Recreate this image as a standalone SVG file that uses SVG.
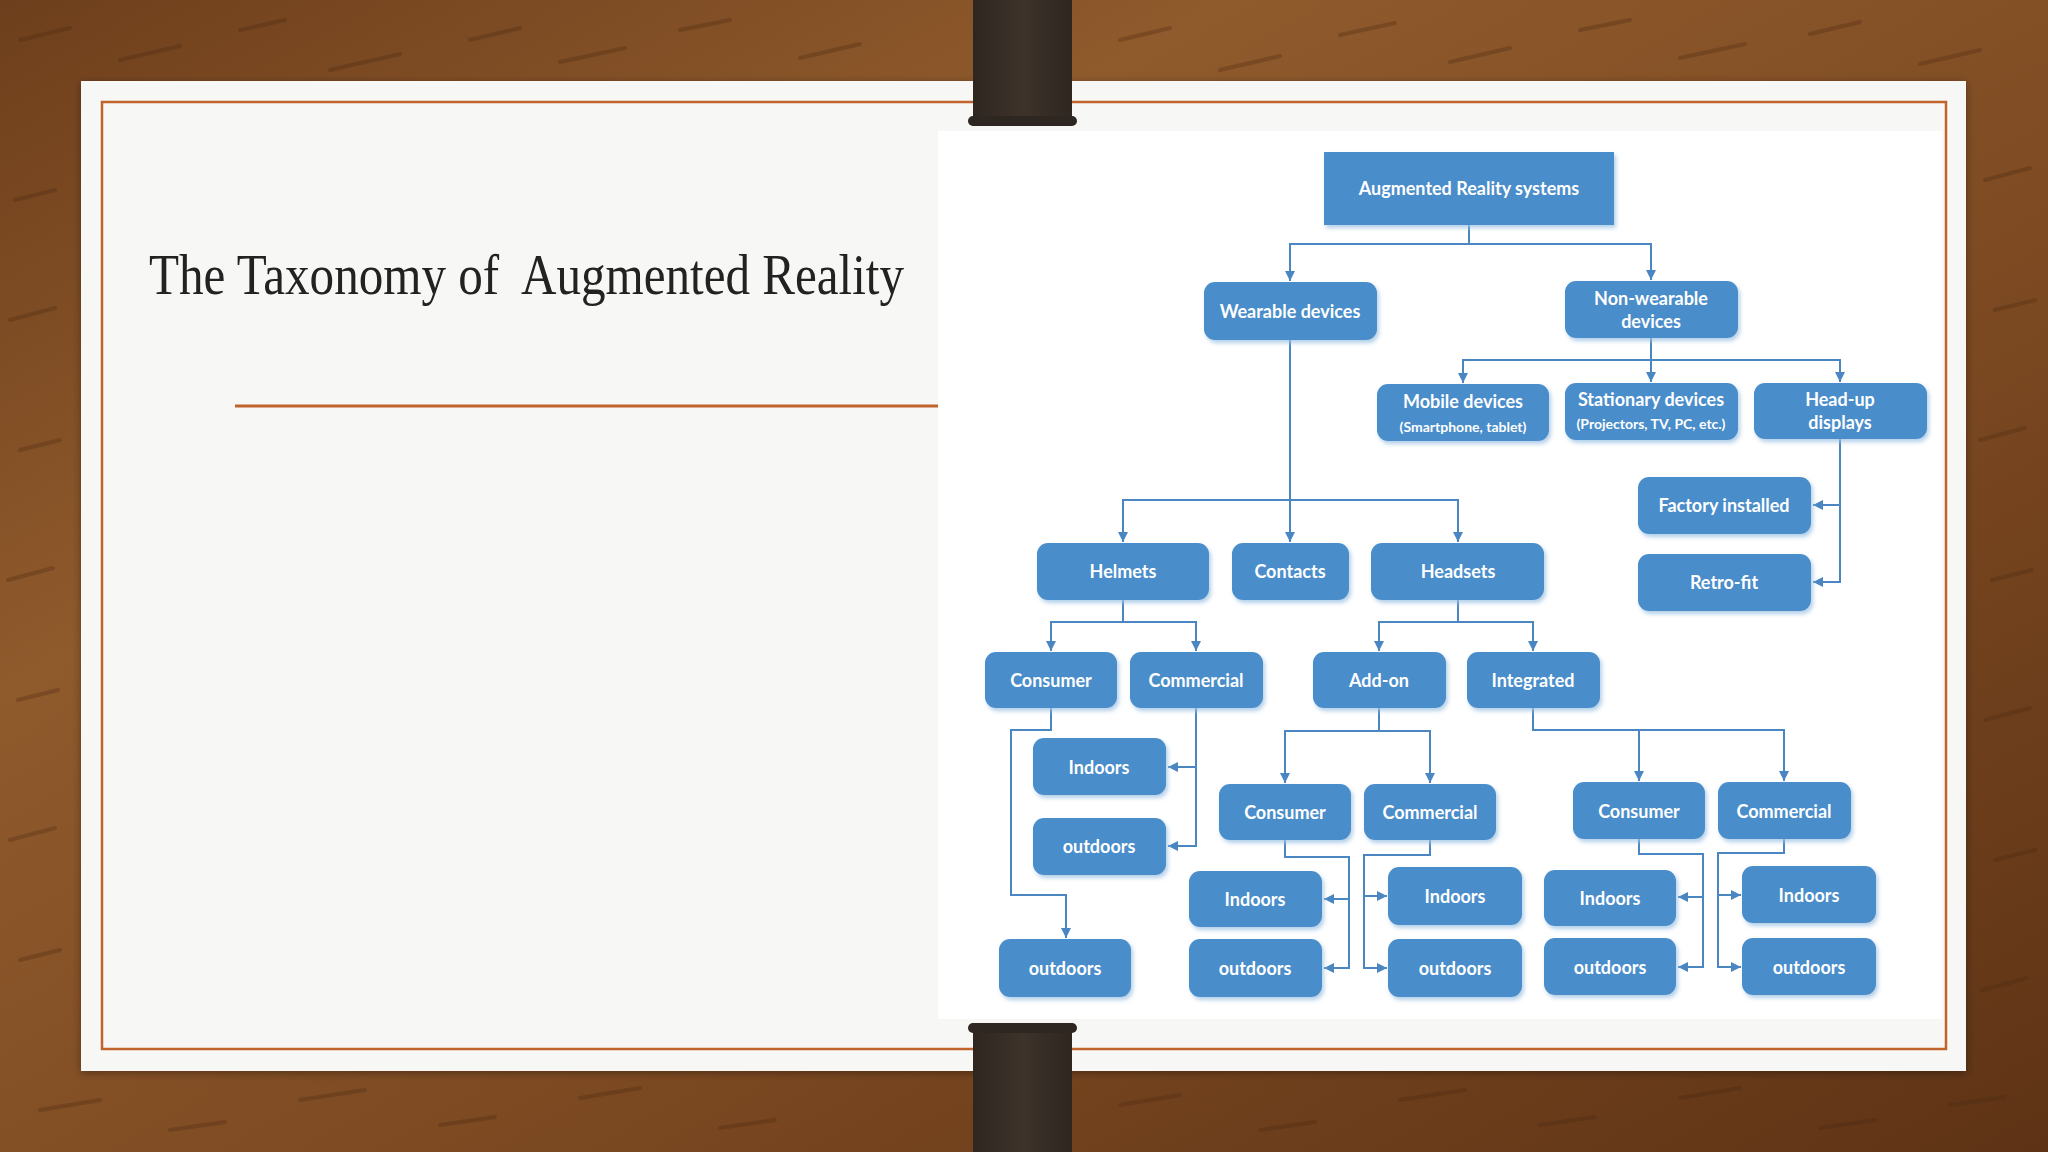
<svg xmlns="http://www.w3.org/2000/svg" width="2048" height="1152" viewBox="0 0 2048 1152">
<defs>
<linearGradient id="wood" x1="0" y1="0" x2="1" y2="1">
<stop offset="0" stop-color="#6e3f1c"/>
<stop offset="0.3" stop-color="#8f5a2c"/>
<stop offset="0.6" stop-color="#7d4a22"/>
<stop offset="1" stop-color="#5e3315"/>
</linearGradient>
<linearGradient id="clip" x1="0" y1="0" x2="1" y2="0">
<stop offset="0" stop-color="#2e2620"/>
<stop offset="0.5" stop-color="#3d332b"/>
<stop offset="1" stop-color="#2e2620"/>
</linearGradient>
<filter id="sh" x="-10%" y="-10%" width="130%" height="140%">
<feDropShadow dx="2" dy="3" stdDeviation="2" flood-color="#9fc3e3" flood-opacity="0.8"/>
</filter>
<filter id="psh" x="-5%" y="-5%" width="110%" height="110%">
<feDropShadow dx="0" dy="2" stdDeviation="4" flood-color="#000" flood-opacity="0.35"/>
</filter>
<marker id="ah" viewBox="0 0 10 10" refX="10" refY="5" markerWidth="10" markerHeight="10" markerUnits="userSpaceOnUse" orient="auto">
<path d="M0,0 L10,5 L0,10 z" fill="#4a86c1"/>
</marker>
</defs>
<style>
.n{fill:#4a8dca;filter:url(#sh)}
.t{fill:#ffffff;font-family:Lato,"Open Sans",sans-serif;font-weight:bold;font-size:18px;text-anchor:middle;dominant-baseline:central}
.s{font-size:14px}
.c{fill:none;stroke:#4a86c1;stroke-width:2}
.a{marker-end:url(#ah)}
.grain{fill:none;stroke:#4a2810;stroke-opacity:0.3;stroke-width:4;stroke-linecap:round}
</style>
<rect width="2048" height="1152" fill="url(#wood)"/>
<g class="grain">
<path d="M20,40 l50,-12"/><path d="M120,60 l60,-14"/><path d="M240,30 l45,-10"/><path d="M330,70 l70,-16"/><path d="M470,40 l50,-12"/><path d="M560,62 l65,-14"/><path d="M680,30 l50,-10"/><path d="M800,58 l60,-14"/>
<path d="M1120,40 l50,-12"/><path d="M1220,70 l60,-14"/><path d="M1340,35 l55,-12"/><path d="M1450,62 l60,-14"/><path d="M1580,30 l50,-10"/><path d="M1680,58 l65,-14"/><path d="M1810,34 l50,-12"/><path d="M1920,64 l60,-14"/>
<path d="M15,200 l40,-10"/><path d="M10,320 l45,-12"/><path d="M20,450 l40,-10"/><path d="M8,580 l45,-12"/><path d="M18,700 l40,-10"/><path d="M10,840 l45,-12"/><path d="M20,960 l40,-10"/>
<path d="M1985,180 l45,-12"/><path d="M1995,310 l40,-10"/><path d="M1980,440 l45,-12"/><path d="M1992,580 l40,-10"/><path d="M1985,720 l45,-12"/><path d="M1995,860 l40,-10"/><path d="M1982,990 l45,-12"/>
<path d="M40,1110 l60,-10"/><path d="M170,1130 l55,-8"/><path d="M300,1100 l65,-10"/><path d="M440,1125 l55,-8"/><path d="M580,1098 l60,-10"/><path d="M720,1128 l55,-8"/>
<path d="M1120,1105 l60,-10"/><path d="M1260,1130 l55,-8"/><path d="M1400,1100 l65,-10"/><path d="M1540,1125 l55,-8"/><path d="M1680,1098 l60,-10"/><path d="M1820,1128 l55,-8"/><path d="M1950,1105 l55,-8"/>
</g>
<rect x="81" y="81" width="1885" height="990" fill="#f7f7f5" filter="url(#psh)"/>
<rect x="938" y="131" width="1004" height="888" fill="#ffffff"/>
<rect x="102" y="102" width="1844" height="947" fill="none" stroke="#c0642c" stroke-width="2.5"/>
<line x1="235" y1="406" x2="938" y2="406" stroke="#c0642c" stroke-width="3"/>
<text x="149" y="294" font-family="'Liberation Serif',serif" font-size="56" fill="#222" textLength="755" lengthAdjust="spacingAndGlyphs" xml:space="preserve">The Taxonomy of  Augmented Reality</text>
<g id="clip-top">
<rect x="973" y="0" width="99" height="122" fill="url(#clip)"/>
<rect x="968" y="116" width="109" height="10" rx="5" fill="#2e2620"/>
</g>
<g id="clip-bottom">
<rect x="973" y="1028" width="99" height="124" fill="url(#clip)"/>
<rect x="968" y="1023" width="109" height="10" rx="5" fill="#2e2620"/>
</g>
<g id="connectors">
<path class="c a" d="M1469,225 V244 H1290 V281"/>
<path class="c a" d="M1469,244 H1651 V280"/>
<path class="c a" d="M1651,338 V360 H1463 V383"/>
<path class="c a" d="M1651,338 V382"/>
<path class="c a" d="M1651,360 H1840 V382"/>
<path class="c a" d="M1840,439 V582 H1813"/>
<path class="c a" d="M1840,505 H1813"/>
<path class="c a" d="M1290,340 V500 H1123 V542"/>
<path class="c a" d="M1290,340 V542"/>
<path class="c a" d="M1290,500 H1458 V542"/>
<path class="c a" d="M1123,600 V622 H1051 V651"/>
<path class="c a" d="M1123,622 H1196 V651"/>
<path class="c a" d="M1458,600 V622 H1379 V651"/>
<path class="c a" d="M1458,622 H1533 V651"/>
<path class="c a" d="M1051,708 V730 H1011 V895 H1066 V938"/>
<path class="c a" d="M1196,708 V846 H1168"/>
<path class="c a" d="M1196,767 H1168"/>
<path class="c a" d="M1379,708 V731 H1285 V783"/>
<path class="c a" d="M1379,731 H1430 V783"/>
<path class="c a" d="M1285,840 V857 H1349 V968 H1324"/>
<path class="c a" d="M1349,899 H1324"/>
<path class="c a" d="M1430,840 V855 H1364 V968 H1387"/>
<path class="c a" d="M1364,896 H1387"/>
<path class="c a" d="M1533,708 V730 H1784 V781"/>
<path class="c a" d="M1639,730 V781"/>
<path class="c a" d="M1639,839 V854 H1703 V967 H1678"/>
<path class="c a" d="M1703,897 H1678"/>
<path class="c a" d="M1784,839 V853 H1718 V967 H1741"/>
<path class="c a" d="M1718,895 H1741"/>
</g>
<g id="root"><rect class="n" x="1324" y="152" width="290" height="73"/><text class="t" x="1469" y="188">Augmented Reality systems</text></g>
<g id="wearable"><rect class="n" x="1204" y="282" width="173" height="58" rx="11"/><text class="t" x="1290" y="311">Wearable devices</text></g>
<g id="nonwearable"><rect class="n" x="1565" y="281" width="173" height="57" rx="11"/><text class="t" x="1651" y="298">Non-wearable</text><text class="t" x="1651" y="321">devices</text></g>
<g id="mobile"><rect class="n" x="1377" y="384" width="172" height="57" rx="11"/><text class="t" x="1463" y="401">Mobile devices</text><text class="t s" x="1463" y="426">(Smartphone, tablet)</text></g>
<g id="stationary"><rect class="n" x="1565" y="383" width="173" height="57" rx="11"/><text class="t" x="1651" y="399">Stationary devices</text><text class="t s" x="1651" y="423">(Projectors, TV, PC, etc.)</text></g>
<g id="headup"><rect class="n" x="1754" y="383" width="173" height="56" rx="11"/><text class="t" x="1840" y="399">Head-up</text><text class="t" x="1840" y="422">displays</text></g>
<g id="factory"><rect class="n" x="1638" y="477" width="173" height="57" rx="11"/><text class="t" x="1724" y="505">Factory installed</text></g>
<g id="retrofit"><rect class="n" x="1638" y="554" width="173" height="57" rx="11"/><text class="t" x="1724" y="582">Retro-fit</text></g>
<g id="helmets"><rect class="n" x="1037" y="543" width="172" height="57" rx="11"/><text class="t" x="1123" y="571">Helmets</text></g>
<g id="contacts"><rect class="n" x="1232" y="543" width="117" height="57" rx="11"/><text class="t" x="1290" y="571">Contacts</text></g>
<g id="headsets"><rect class="n" x="1371" y="543" width="173" height="57" rx="11"/><text class="t" x="1458" y="571">Headsets</text></g>
<g id="h-consumer"><rect class="n" x="985" y="652" width="132" height="56" rx="11"/><text class="t" x="1051" y="680">Consumer</text></g>
<g id="h-commercial"><rect class="n" x="1130" y="652" width="133" height="56" rx="11"/><text class="t" x="1196" y="680">Commercial</text></g>
<g id="addon"><rect class="n" x="1313" y="652" width="133" height="56" rx="11"/><text class="t" x="1379" y="680">Add-on</text></g>
<g id="integrated"><rect class="n" x="1467" y="652" width="133" height="56" rx="11"/><text class="t" x="1533" y="680">Integrated</text></g>
<g id="hc-outdoors"><rect class="n" x="999" y="939" width="132" height="58" rx="11"/><text class="t" x="1065" y="968">outdoors</text></g>
<g id="hm-indoors"><rect class="n" x="1033" y="738" width="133" height="57" rx="11"/><text class="t" x="1099" y="767">Indoors</text></g>
<g id="hm-outdoors"><rect class="n" x="1033" y="818" width="133" height="57" rx="11"/><text class="t" x="1099" y="846">outdoors</text></g>
<g id="a-consumer"><rect class="n" x="1219" y="784" width="132" height="56" rx="11"/><text class="t" x="1285" y="812">Consumer</text></g>
<g id="a-commercial"><rect class="n" x="1364" y="784" width="132" height="56" rx="11"/><text class="t" x="1430" y="812">Commercial</text></g>
<g id="ac-indoors"><rect class="n" x="1189" y="871" width="133" height="56" rx="11"/><text class="t" x="1255" y="899">Indoors</text></g>
<g id="ac-outdoors"><rect class="n" x="1189" y="939" width="133" height="58" rx="11"/><text class="t" x="1255" y="968">outdoors</text></g>
<g id="am-indoors"><rect class="n" x="1388" y="867" width="134" height="58" rx="11"/><text class="t" x="1455" y="896">Indoors</text></g>
<g id="am-outdoors"><rect class="n" x="1388" y="939" width="134" height="58" rx="11"/><text class="t" x="1455" y="968">outdoors</text></g>
<g id="i-consumer"><rect class="n" x="1573" y="782" width="132" height="57" rx="11"/><text class="t" x="1639" y="811">Consumer</text></g>
<g id="i-commercial"><rect class="n" x="1718" y="782" width="133" height="57" rx="11"/><text class="t" x="1784" y="811">Commercial</text></g>
<g id="ic-indoors"><rect class="n" x="1544" y="870" width="132" height="56" rx="11"/><text class="t" x="1610" y="898">Indoors</text></g>
<g id="ic-outdoors"><rect class="n" x="1544" y="938" width="132" height="57" rx="11"/><text class="t" x="1610" y="967">outdoors</text></g>
<g id="im-indoors"><rect class="n" x="1742" y="866" width="134" height="57" rx="11"/><text class="t" x="1809" y="895">Indoors</text></g>
<g id="im-outdoors"><rect class="n" x="1742" y="938" width="134" height="57" rx="11"/><text class="t" x="1809" y="967">outdoors</text></g>
</svg>
